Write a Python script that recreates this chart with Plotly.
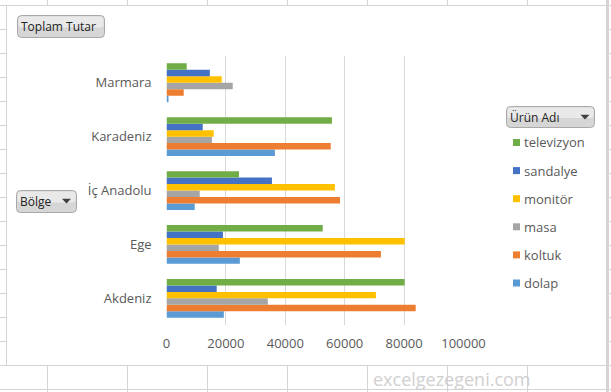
import plotly.graph_objects as go

W, H = 611, 392

# ---- data ----
regions = ["Akdeniz", "Ege", "İç Anadolu", "Karadeniz", "Marmara"]  # bottom -> top
products = ["dolap", "koltuk", "masa", "monitör", "sandalye", "televizyon"]  # bottom -> top in group
colors = ["#5B9BD5", "#ED7D31", "#A5A5A5", "#FFC000", "#4472C4", "#70AD47"]

dolap      = [19300, 24700,  9500, 36500,   450]
koltuk     = [83900, 72200, 58400, 55300,  5800]
masa       = [34100, 17600, 11200, 15300, 22300]
monitor    = [70500, 80200, 56700, 15900, 18600]
sandalye   = [16900, 19000, 35500, 12200, 14600]
televizyon = [80200, 52600, 24400, 55700,  6800]
series = [dolap, koltuk, masa, monitor, sandalye, televizyon]

x_ticks = [0, 20000, 40000, 60000, 80000, 100000]
x_tick_text = ["0", "20000", "40000", "60000", "80000", "100000"]

FONT = "Open Sans, Noto Sans, sans-serif"


def X(x):
    return x / W


def Y(y):
    return 1 - y / H


fig = go.Figure()
for name, vals, col in zip(products, series, colors):
    fig.add_trace(go.Bar(
        y=regions, x=vals, name=name, orientation="h",
        marker=dict(color=col, line=dict(width=0)),
        showlegend=False,
    ))

shapes = []
annotations = []
GRID = "#d4d4d4"

# ---- spreadsheet grid outside chart ----
col_lines = [47.5 + 80 * i for i in range(8)]
row_lines = [29.5 + 24 * i for i in range(15)]
for cx in col_lines:
    if cx < 607:
        shapes.append(dict(type="line", xref="paper", yref="paper",
                           x0=X(cx), x1=X(cx), y0=Y(0), y1=Y(6),
                           line=dict(color=GRID, width=1)))
        shapes.append(dict(type="line", xref="paper", yref="paper",
                           x0=X(cx), x1=X(cx), y0=Y(365), y1=Y(392),
                           line=dict(color=GRID, width=1)))
for ry in row_lines:
    shapes.append(dict(type="line", xref="paper", yref="paper",
                       x0=X(0), x1=X(6), y0=Y(ry), y1=Y(ry),
                       line=dict(color=GRID, width=1)))
    shapes.append(dict(type="line", xref="paper", yref="paper",
                       x0=X(607), x1=X(611), y0=Y(ry), y1=Y(ry),
                       line=dict(color=GRID, width=1)))
shapes.append(dict(type="line", xref="paper", yref="paper",
                   x0=X(0), x1=X(611), y0=Y(389.5), y1=Y(389.5),
                   line=dict(color=GRID, width=1)))
# chart border
shapes.append(dict(type="line", xref="paper", yref="paper",
                   x0=X(0), x1=X(611), y0=Y(5.5), y1=Y(5.5),
                   line=dict(color=GRID, width=1)))
shapes.append(dict(type="line", xref="paper", yref="paper",
                   x0=X(0), x1=X(611), y0=Y(365.5), y1=Y(365.5),
                   line=dict(color=GRID, width=1)))
shapes.append(dict(type="line", xref="paper", yref="paper",
                   x0=X(6.5), x1=X(6.5), y0=Y(5.5), y1=Y(365.5),
                   line=dict(color=GRID, width=1)))
shapes.append(dict(type="line", xref="paper", yref="paper",
                   x0=X(607.5), x1=X(607.5), y0=Y(0), y1=Y(392),
                   line=dict(color=GRID, width=3)))


def rrect(x0, y0, x1, y1, r):
    pts = [
        f"M{X(x0 + r)},{Y(y0)}", f"L{X(x1 - r)},{Y(y0)}",
        f"Q{X(x1)},{Y(y0)} {X(x1)},{Y(y0 + r)}", f"L{X(x1)},{Y(y1 - r)}",
        f"Q{X(x1)},{Y(y1)} {X(x1 - r)},{Y(y1)}", f"L{X(x0 + r)},{Y(y1)}",
        f"Q{X(x0)},{Y(y1)} {X(x0)},{Y(y1 - r)}", f"L{X(x0)},{Y(y0 + r)}",
        f"Q{X(x0)},{Y(y0)} {X(x0 + r)},{Y(y0)}", "Z",
    ]
    return " ".join(pts)


def button(x0, y0, x1, y1, text, arrow=None):
    shapes.append(dict(type="path", xref="paper", yref="paper",
                       path=rrect(x0, y0, x1, y1, 4),
                       fillcolor="#d6d6d6", line=dict(color="#a9a9a9", width=1)))
    shapes.append(dict(type="path", xref="paper", yref="paper",
                       path=rrect(x0 + 1, y0 + 1, x1 - 1, y0 + (y1 - y0) * 0.55, 3),
                       fillcolor="#e9e9e9", line=dict(width=0)))
    annotations.append(dict(xref="paper", yref="paper", x=X(x0 + 1.5), y=Y((y0 + y1) / 2),
                            xanchor="left", yanchor="middle", showarrow=False,
                            text=text, font=dict(family=FONT, size=12, color="#222222")))
    if arrow is not None:
        cx, cy = arrow
        shapes.append(dict(type="path", xref="paper", yref="paper",
                           path=f"M{X(cx - 4.5)},{Y(cy - 2.2)} L{X(cx + 4.5)},{Y(cy - 2.2)} L{X(cx)},{Y(cy + 2.6)} Z",
                           fillcolor="#404040", line=dict(width=0)))


button(17.5, 15.5, 104.5, 37.5, "Toplam Tutar")
button(16.5, 190.5, 76.5, 212.5, "Bölge", arrow=(66.5, 201))
button(506.5, 106.5, 594.5, 127.5, "Ürün Adı", arrow=(585, 117))

# ---- legend (top -> bottom: reversed product order) ----
leg_y0, leg_dy = 142.5, 28.1
for i, (name, col) in enumerate(zip(reversed(products), reversed(colors))):
    cy = leg_y0 + i * leg_dy
    shapes.append(dict(type="rect", xref="paper", yref="paper",
                       x0=X(513), x1=X(520), y0=Y(cy - 3.5), y1=Y(cy + 3.5),
                       fillcolor=col, line=dict(width=0)))
    annotations.append(dict(xref="paper", yref="paper", x=X(522), y=Y(cy),
                            xanchor="left", yanchor="middle", showarrow=False,
                            text=name, font=dict(family=FONT, size=13, color="#595959")))

# watermark
annotations.append(dict(xref="paper", yref="paper", x=X(452), y=Y(379),
                        xanchor="center", yanchor="middle", showarrow=False,
                        text="excelgezegeni.com",
                        font=dict(family=FONT, size=18, color="#d0d0d0")))

fig.update_layout(
    width=W, height=H,
    margin=dict(l=0, r=0, t=0, b=0),
    paper_bgcolor="white", plot_bgcolor="white",
    barmode="group", bargap=0.28, bargroupgap=0,
    font=dict(family=FONT, size=13, color="#595959"),
    shapes=shapes, annotations=annotations,
    hovermode=False,
    xaxis=dict(
        domain=[X(166.5), X(463.5)], range=[0, 100000],
        tickvals=x_ticks, ticktext=x_tick_text,
        showgrid=True, gridcolor="#d9d9d9", gridwidth=1,
        zeroline=False, showline=False, ticks="",
        ticklabelstandoff=9, automargin=False,
        tickfont=dict(family=FONT, size=13, color="#595959"),
        fixedrange=True,
    ),
    yaxis=dict(
        domain=[Y(325.3), Y(55.8)],
        categoryorder="array", categoryarray=regions,
        showgrid=False, zeroline=False, showline=False, ticks="",
        ticklabelstandoff=14, automargin=False,
        tickfont=dict(family=FONT, size=13, color="#595959"),
        fixedrange=True,
    ),
)

fig.write_html("out.html")
